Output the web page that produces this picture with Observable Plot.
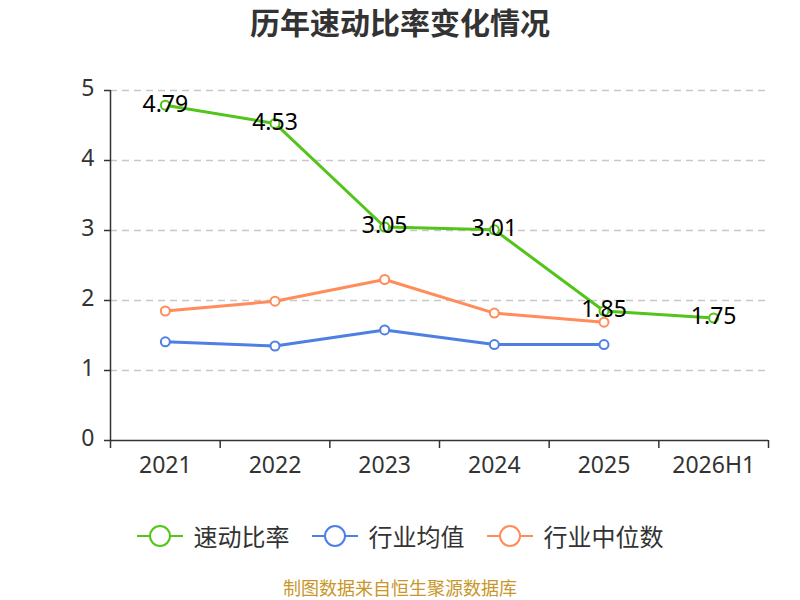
<!DOCTYPE html>
<html>
<head>
<meta charset="utf-8">
<script src="https://cdn.jsdelivr.net/npm/d3@7"></script>
<script src="https://cdn.jsdelivr.net/npm/@observablehq/plot@0.6"></script>
<style>
  body { margin:0; width:800px; height:600px; position:relative; background:#fff; font-family:"Noto Sans","Noto Sans CJK SC",sans-serif; overflow:hidden; }
  #title { position:absolute; top:-1px; left:0; width:800px; text-align:center; font-size:30px; font-weight:bold; color:#333; font-family:"Noto Sans CJK SC","Noto Sans",sans-serif; }
  #chart { position:absolute; top:50px; left:0; }
  #legend { position:absolute; top:518px; left:0; width:800px; display:flex; justify-content:center; gap:22px; font-size:24px; color:#333; font-family:"Noto Sans CJK SC",sans-serif; }
  .item { display:flex; align-items:center; gap:11px; }
  #caption { position:absolute; top:577px; left:0; width:800px; text-align:center; font-size:18px; line-height:20px; color:#c8962a; font-family:"Noto Sans CJK SC",sans-serif; }
</style>
</head>
<body>
<div id="title">历年速动比率变化情况</div>
<div id="chart"></div>
<div id="legend"></div>
<div id="caption">制图数据来自恒生聚源数据库</div>
<script>
const categories = ["2021","2022","2023","2024","2025","2026H1"];
const quickRatio = [4.79, 4.53, 3.05, 3.01, 1.85, 1.75];
const industryMean = [1.41, 1.35, 1.58, 1.37, 1.37];
const industryMedian = [1.85, 1.99, 2.30, 1.82, 1.69];
const yTicks = [0, 1, 2, 3, 4, 5];

const seriesNames = ["速动比率", "行业均值", "行业中位数"];
const colors = ["#52c41a", "#4e80e4", "#ff8c5a"];

const toRows = (vals, s) => vals.map((v, i) => ({i, v, s}));
const rows = [toRows(quickRatio, 0), toRows(industryMean, 1), toRows(industryMedian, 2)];

const bounds = d3.range(categories.length + 1).map(i => i - 0.5);
const catIdx = d3.range(categories.length);

const marks = [
  Plot.gridY(yTicks.filter(t => t > 0), {stroke:"#c8c8c8", strokeOpacity:1, strokeWidth:1.5, strokeDasharray:"7,5"}),
  Plot.axisY(yTicks, {tickSize:6, tickFormat:() => "", label:null, stroke:"#333", strokeWidth:1.5}),
  Plot.axisX(bounds, {tickSize:8, tickFormat:() => "", label:null, stroke:"#333", strokeWidth:1.5}),
  Plot.text(yTicks, {x:-0.5, y:d => d, text:d => String(d), dx:-16, dy:-2, textAnchor:"end", fontSize:23, fill:"#333"}),
  Plot.text(catIdx, {x:d => d, y:0, text:i => categories[i], dy:25, fontSize:23, fill:"#333"}),
  Plot.ruleX([-0.5], {y1:0, y2:5, stroke:"#333", strokeWidth:1.5}),
  Plot.ruleY([0], {stroke:"#333", strokeWidth:1.5}),
];
[2, 1, 0].forEach(s => {
  marks.push(Plot.line(rows[s], {x:"i", y:"v", stroke:colors[s], strokeWidth:3}));
  marks.push(Plot.dot(rows[s], {x:"i", y:"v", r:4.5, fill:"#fff", stroke:colors[s], strokeWidth:2}));
});
marks.push(Plot.text(rows[0], {x:"i", y:"v", text:d => d.v.toFixed(2), fontSize:23, fill:"#000", dy:-1}));

const chart = Plot.plot({
  width:800, height:440,
  marginLeft:110, marginRight:32, marginTop:40, marginBottom:50,
  x:{type:"linear", domain:[-0.5, categories.length - 0.5], axis:null},
  y:{domain:[0,5], axis:null},
  style:{fontFamily:"'Noto Sans', sans-serif", fontSize:"21px", color:"#333", background:"#fff", overflow:"visible"},
  marks
});
document.getElementById("chart").appendChild(chart);

const legend = document.getElementById("legend");
seriesNames.forEach((n, s) => {
  const item = document.createElement("div");
  item.className = "item";
  item.innerHTML = `<svg width="46" height="24"><line x1="0" y1="12" x2="46" y2="12" stroke="${colors[s]}" stroke-width="2"/><circle cx="23" cy="12" r="10" fill="#fff" stroke="${colors[s]}" stroke-width="2"/></svg><span>${n}</span>`;
  legend.appendChild(item);
});
</script>
</body>
</html>
